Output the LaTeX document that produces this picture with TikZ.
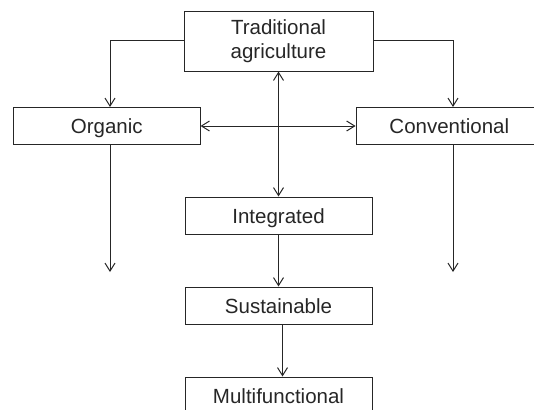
\documentclass[tikz,border=0pt]{standalone}
\usepackage{fontspec}
\setmainfont{Liberation Sans}
\usetikzlibrary{arrows.meta}
\definecolor{ink}{HTML}{262626}
\begin{document}
\begin{tikzpicture}[x=1pt,y=-1pt,
  box/.style={draw=ink,line width=1pt,text=ink,inner sep=0pt,minimum width=187pt,minimum height=37pt,
    font=\fontsize{20.5}{23.5}\selectfont,align=center},
  onebox/.style={box,text height=15pt,text depth=0pt},
  conn/.style={draw=ink,line width=1pt,-{Straight Barb[length=8pt,width=10pt,line width=1pt]}},
  dconn/.style={draw=ink,line width=1pt,{Straight Barb[length=8pt,width=10pt,line width=1pt]}-{Straight Barb[length=8pt,width=10pt,line width=1pt]}}]
\useasboundingbox (0,0) rectangle (534,409);
\begin{scope}
\clip (0,0) rectangle (534,409);
\node[box,minimum width=189pt,minimum height=59.5pt] (trad) at (278.5,41.3) {Traditional\\agriculture};
\node[onebox,minimum width=186.5pt] (org) at (106.8,126) {Organic};
\node[onebox,minimum width=186.5pt] (conv) at (449.3,126) {Conventional};
\node[onebox] (integ) at (278.5,215.5) {Integrated};
\node[onebox] (sust) at (278.5,305.5) {Sustainable};
\node[onebox] (multi) at (278.5,395.5) {Multifunctional};
\coordinate (oend) at (110,272);
\coordinate (cend) at (453,272);
\end{scope}
\draw[conn] (trad.west |- 0,41) -| (org.north -| oend);
\draw[conn] (trad.east |- 0,41) -| (conv.north -| cend);
\draw[dconn] (org.east) -- (conv.west);
\draw[dconn] (trad.south) -- (integ.north);
\draw[conn] (org.south -| oend) -- (oend);
\draw[conn] (conv.south -| cend) -- (cend);
\draw[conn] (integ.south) -- (sust.north);
\draw[conn] ([xshift=4pt]sust.south) -- ([xshift=4pt]multi.north);
\end{tikzpicture}
\end{document}
